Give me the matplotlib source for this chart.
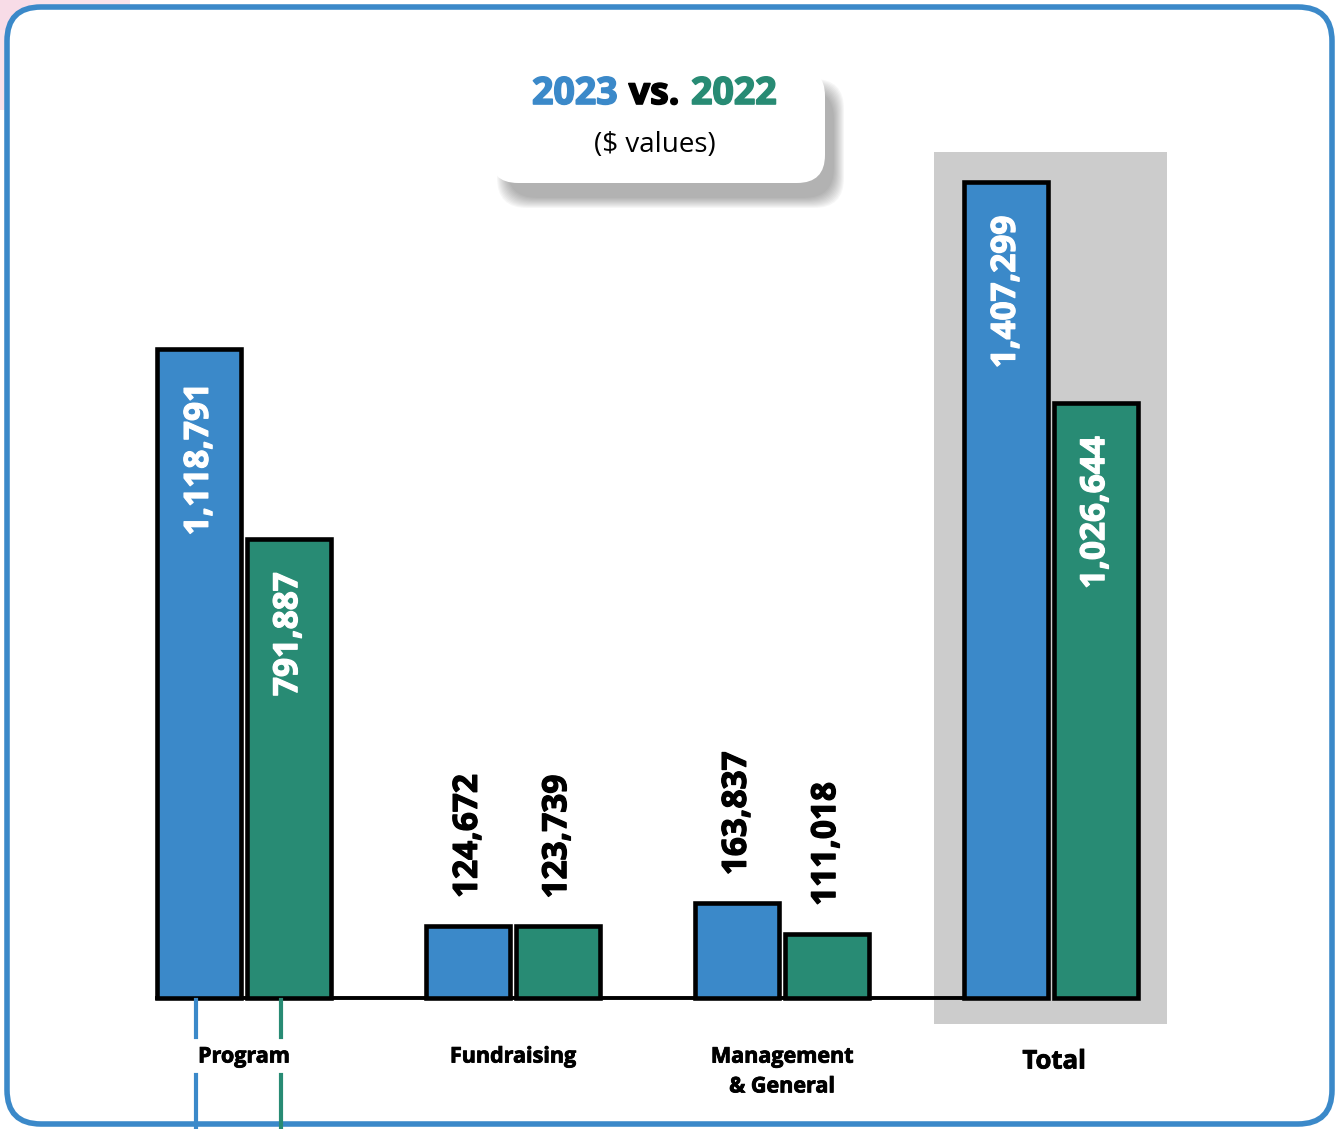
import numpy as np
import matplotlib.pyplot as plt
import matplotlib.patheffects as pe
from matplotlib.patches import FancyBboxPatch, Rectangle

# data
categories = ['Program', 'Fundraising', 'Management\n& General', 'Total']
values_2023 = [1118791, 124672, 163837, 1407299]
values_2022 = [791887, 123739, 111018, 1026644]
label_inside = [True, False, False, True]

blue = '#3b89c9'
green = '#288b74'
W, H = 1339, 1129

plt.rcParams['font.family'] = ['Open Sans', 'DejaVu Sans']


def heavy(color, w=0.9):
    # thicken the bold glyphs a little
    return [pe.withStroke(linewidth=w, foreground=color)]


fig = plt.figure(figsize=(W / 100, H / 100), dpi=100)
fig.patch.set_facecolor('white')

# decoration layer in pixel coordinates (y down)
deco = fig.add_axes([0, 0, 1, 1], zorder=0)
deco.set_xlim(0, W)
deco.set_ylim(H, 0)
deco.axis('off')

# pink tint top-left outside the frame
deco.add_patch(Rectangle((0, 0), 130, 30, color='#f8dbe7', lw=0, alpha=0.8))
deco.add_patch(Rectangle((0, 0), 30, 110, color='#f8dbe7', lw=0, alpha=0.8))
# frame
deco.add_patch(FancyBboxPatch((7, 7), W - 14, H - 12,
                              boxstyle='round,pad=0,rounding_size=34',
                              fc='white', ec=blue, lw=4))

# gray highlight behind Total
deco.add_patch(Rectangle((934, 152), 233, 872, color='#cccccc', lw=0))

# title card with blurred shadow
for g in range(22, 0, -2):
    deco.add_patch(FancyBboxPatch((500 - g / 2 + 8, 78 - g / 2 + 12), 325 + g, 107 + g,
                                  boxstyle='round,pad=0,rounding_size=30',
                                  fc='#444444', ec='none', alpha=0.045))
deco.add_patch(FancyBboxPatch((490, 68), 335, 115,
                              boxstyle='round,pad=0,rounding_size=28',
                              fc='white', ec='none'))
deco.text(618, 94, '2023', color=blue, fontsize=27, fontweight='bold', ha='right', va='center',
          path_effects=heavy(blue, 1.2))
deco.text(654, 94, 'vs.', color='black', fontsize=27, fontweight='bold', ha='center', va='center',
          path_effects=heavy('black', 1.2))
deco.text(691, 94, '2022', color=green, fontsize=27, fontweight='bold', ha='left', va='center',
          path_effects=heavy(green, 1.2))
deco.text(655, 145, '($ values)', color='black', fontsize=20, ha='center', va='center')

# main chart
ax = fig.add_axes([0, 0, 1, 1], zorder=1)
ax.patch.set_alpha(0)
ax.axis('off')
ax.set_xlim(-244 / 269, (W - 244) / 269)
ax.set_ylim(-225900, 1721100)

x = np.arange(len(categories))
width = 0.312
off = 0.166

ax.plot([x[0] - off - width / 2, x[-1] - off - width / 2], [0, 0], color='black', lw=2.8, zorder=1)
ax.bar(x - off, values_2023, width, color=blue, edgecolor='black', linewidth=3.3, zorder=2)
ax.bar(x + off, values_2022, width, color=green, edgecolor='black', linewidth=3.3, zorder=2)

for xi, v23, v22, inside in zip(x, values_2023, values_2022, label_inside):
    for xx, v in [(xi - off, v23), (xi + off, v22)]:
        if inside:
            ax.annotate(f'{v:,}', (xx, v), xytext=(0, -24), textcoords='offset points',
                        rotation=90, ha='center', va='top', color='white',
                        fontsize=24, fontweight='bold', path_effects=heavy('white'))
        else:
            ax.annotate(f'{v:,}', (xx, v), xytext=(0, 20), textcoords='offset points',
                        rotation=90, ha='center', va='bottom', color='black',
                        fontsize=24, fontweight='bold', path_effects=heavy('black'))

# category labels
trans = ax.get_xaxis_transform()
label_y = [1057, 1057, 1072, 1061]
label_dx = [0, 0, 0, 0.012]
for xi, cat, ly, dx in zip(x, categories, label_y, label_dx):
    fs = 18.5 if cat == 'Total' else 15.5
    ax.text(xi + dx, 1 - ly / H, cat, transform=trans, ha='center', va='center',
            fontsize=fs, fontweight='bold', linespacing=1.55,
            path_effects=heavy('black', 0.6))

# little markers under Program
for xx, c in [(x[0] - off - 0.012, blue), (x[0] + off - 0.03, green)]:
    ax.plot([xx, xx], [1 - 1000 / H, 1 - 1037 / H], color=c, lw=3, transform=trans)
    ax.plot([xx, xx], [1 - 1075 / H, 0], color=c, lw=3, transform=trans)

fig.savefig('out.png', dpi=100)
